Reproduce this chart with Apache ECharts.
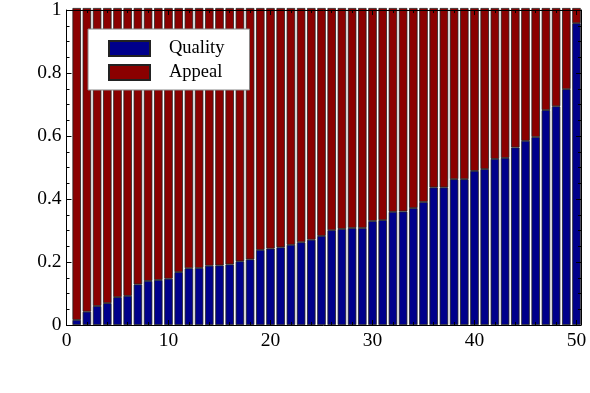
<!DOCTYPE html>
<html>
<head>
<meta charset="utf-8">
<script src="https://cdn.jsdelivr.net/npm/echarts@6/dist/echarts.min.js"></script>
<style>
  html, body { margin: 0; padding: 0; background: #fff; }
  #chart { width: 590px; height: 393px; }
</style>
</head>
<body>
<div id="chart"></div>
<script>
// x positions 0..50 (no bar at 0)
const categories = ["0","1","2","3","4","5","6","7","8","9","10","11","12","13","14","15","16","17","18","19","20",
  "21","22","23","24","25","26","27","28","29","30","31","32","33","34","35","36","37","38","39","40",
  "41","42","43","44","45","46","47","48","49","50"];
// blue part (bottom), bars 1..50
const quality = [0.016,0.042,0.060,0.069,0.088,0.092,0.128,0.139,0.142,0.146,
  0.167,0.179,0.180,0.187,0.188,0.191,0.201,0.207,0.237,0.241,
  0.245,0.253,0.261,0.269,0.281,0.299,0.303,0.306,0.306,0.328,
  0.331,0.357,0.358,0.369,0.388,0.434,0.434,0.460,0.460,0.486,
  0.492,0.524,0.527,0.560,0.581,0.593,0.678,0.690,0.744,0.952];
// red part (stacked on top, reaches 1)
const appeal = [0.984,0.958,0.940,0.931,0.912,0.908,0.872,0.861,0.858,0.854,
  0.833,0.821,0.820,0.813,0.812,0.809,0.799,0.793,0.763,0.759,
  0.755,0.747,0.739,0.731,0.719,0.701,0.697,0.694,0.694,0.672,
  0.669,0.643,0.642,0.631,0.612,0.566,0.566,0.540,0.540,0.514,
  0.508,0.476,0.473,0.440,0.419,0.407,0.322,0.310,0.256,0.048];
const xTicks = [0, 10, 20, 30, 40, 50];
const yTicks = [0, 0.2, 0.4, 0.6, 0.8, 1];

const chart = echarts.init(document.getElementById("chart"), null, { renderer: "canvas" });
const serif = "Liberation Serif";
const black = { color: "#000", width: 1 };

// px per unit on x: bars 1..50 sit at 76.7 .. 576.5
const x0 = 66.5, unit = 10.2, spineRight = 581;
const xMax = (spineRight - x0) / unit;

const axisBase = {
  type: "value",
  gridIndex: 1,
  axisLine: { show: true, onZero: false, lineStyle: black },
  axisTick: { show: true, inside: true, length: 5, lineStyle: black },
  minorTick: { show: true, splitNumber: 5, length: 3, lineStyle: black },
  splitLine: { show: false },
  z: 10
};

const option = {
  animation: false,
  backgroundColor: "#fff",
  grid: [
    // grid 0: bars (category positions 0..50)
    { left: x0, right: 590 - (x0 + 50 * unit), top: 8, bottom: 68 },
    // grid 1: frame, ticks and labels
    { left: x0, right: 590 - spineRight, top: 8, bottom: 68 }
  ],
  legend: {
    orient: "vertical",
    left: 88,
    top: 29,
    padding: [10, 25, 8, 20],
    itemWidth: 41,
    itemHeight: 15,
    itemGap: 5,
    icon: "rect",
    backgroundColor: "#fff",
    borderColor: "#888",
    borderWidth: 1,
    textStyle: { fontFamily: serif, fontSize: 18.5, lineHeight: 17, color: "#000", padding: [0, 0, 0, 14] },
    data: ["Quality", "Appeal"]
  },
  xAxis: [
    {
      type: "category", gridIndex: 0, data: categories, boundaryGap: false,
      axisLine: { show: false }, axisTick: { show: false }, axisLabel: { show: false }
    },
    Object.assign({}, axisBase, {
      min: 0, max: xMax, interval: 10,
      position: "bottom",
      axisLabel: {
        fontFamily: serif, fontSize: 19.5, color: "#000", margin: 6,
        showMaxLabel: false,
        formatter: v => xTicks.includes(v) ? String(v) : ""
      }
    }),
    Object.assign({}, axisBase, {
      min: 0, max: xMax, interval: 10,
      position: "top",
      axisLabel: { show: false }
    })
  ],
  yAxis: [
    {
      type: "value", gridIndex: 0, min: 0, max: 1,
      axisLine: { show: false }, axisTick: { show: false }, axisLabel: { show: false },
      splitLine: { show: false }
    },
    Object.assign({}, axisBase, {
      min: 0, max: 1, interval: 0.2,
      position: "left",
      minorTick: { show: true, splitNumber: 4, length: 3, lineStyle: black },
      axisLabel: {
        fontFamily: serif, fontSize: 19.5, color: "#000", margin: 5,
        formatter: v => (v === 0 || v === 1) ? String(v) : v.toFixed(1)
      }
    }),
    Object.assign({}, axisBase, {
      min: 0, max: 1, interval: 0.2,
      position: "right",
      minorTick: { show: true, splitNumber: 4, length: 3, lineStyle: black },
      axisLabel: { show: false }
    })
  ],
  series: [
    {
      name: "Quality",
      type: "bar",
      xAxisIndex: 0, yAxisIndex: 0,
      stack: "total",
      barWidth: 8.5,
      clip: false,
      itemStyle: { color: "#00008b", borderColor: "#222", borderWidth: 0.8 },
      data: [null].concat(quality)
    },
    {
      name: "Appeal",
      type: "bar",
      xAxisIndex: 0, yAxisIndex: 0,
      stack: "total",
      barWidth: 8.5,
      clip: false,
      itemStyle: { color: "#8b0000", borderColor: "#222", borderWidth: 0.8 },
      data: [null].concat(appeal)
    }
  ]
};

chart.setOption(option);
</script>
</body>
</html>
